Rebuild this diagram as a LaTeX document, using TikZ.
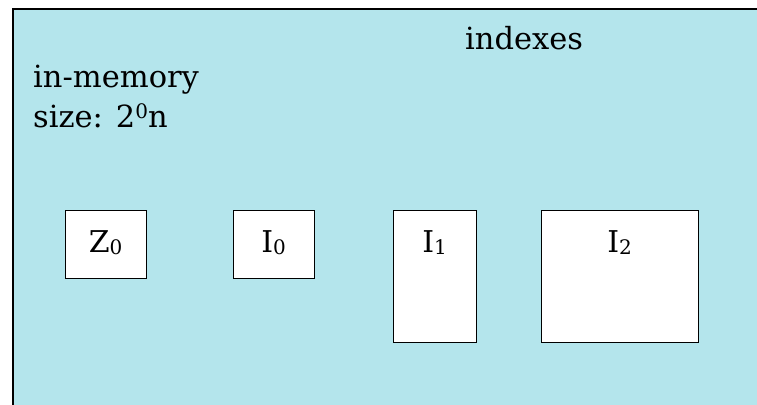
\documentclass[tikz,border=0pt]{standalone}
\usepackage{fontspec}
\setmainfont{DejaVu Serif}
\usetikzlibrary{calc}
\definecolor{memcyan}{RGB}{180,229,236}

\newcommand{\lowdigit}[1]{\raisebox{-2pt}{\fontsize{20}{20}\selectfont #1}}
\newcommand{\highdigit}[1]{\raisebox{9pt}{\fontsize{20}{20}\selectfont #1}}

\begin{document}
\begin{tikzpicture}[x=1pt, y=-1pt,
  idx/.style={draw, line width=1.3pt, fill=white, anchor=north west, inner sep=0pt},
  lbl/.style={anchor=base, font=\fontsize{30}{32}\selectfont},
  txt/.style={anchor=base west, inner sep=0pt, font=\fontsize{30.5}{32}\selectfont}]
\useasboundingbox (0,0) rectangle (757,404);
\clip (0,0) rectangle (757,404);
\fill[memcyan, draw=black, line width=1.8pt] (13,9) rectangle (790,440);

\node[txt] (mem) at (33,88) {in-memory};
\node[txt] (size) at (33,127) {size: 2\highdigit{0}n};
\node[txt] (indexes) at (465,49) {indexes};

\node[idx, minimum width=81pt, minimum height=68pt] (z0) at (64.5,209.5) {};
\node[idx, minimum width=81pt, minimum height=68pt] (i0) at (232.5,209.5) {};
\node[idx, minimum width=83pt, minimum height=132pt] (i1) at (392.5,209.5) {};
\node[idx, minimum width=157pt, minimum height=132pt] (i2) at (540.5,209.5) {};

\node[lbl] (z0lbl) at ($(z0.north)+(0,43)$) {Z\lowdigit{0}};
\node[lbl] (i0lbl) at ($(i0.north)+(0,43)$) {I\lowdigit{0}};
\node[lbl] (i1lbl) at ($(i1.north)+(0,43)$) {I\lowdigit{1}};
\node[lbl] (i2lbl) at ($(i2.north)+(0,43)$) {I\lowdigit{2}};
\end{tikzpicture}
\end{document}
